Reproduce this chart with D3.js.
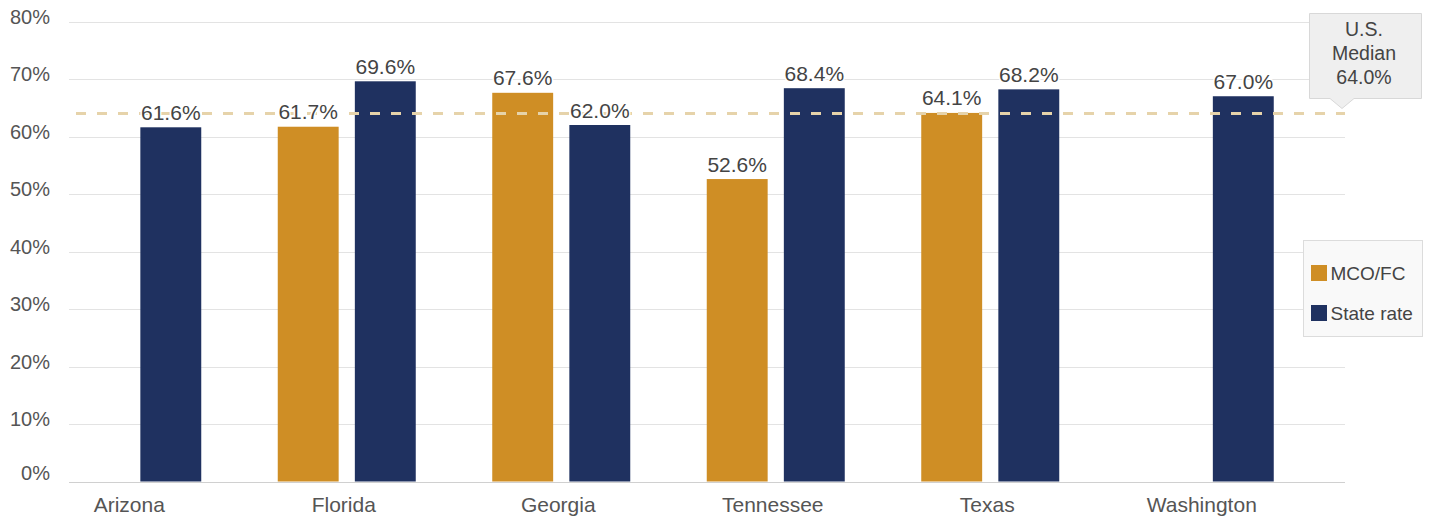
<!DOCTYPE html>
<html>
<head>
<meta charset="utf-8">
<script src="https://cdn.jsdelivr.net/npm/d3@7"></script>
<style>
  body { margin: 0; background: #fff; }
  text { font-family: "Liberation Sans", Arial, sans-serif; }
</style>
</head>
<body>
<div id="chart"></div>
<script>
var states = ["Arizona", "Florida", "Georgia", "Tennessee", "Texas", "Washington"];
var seriesNames = ["MCO/FC", "State rate"];
var mcoValues = [null, 61.7, 67.6, 52.6, 64.1, null];
var stateValues = [61.6, 69.6, 62.0, 68.4, 68.2, 67.0];
var yTicks = [0, 10, 20, 30, 40, 50, 60, 70, 80];
var medianValue = 64.0;
var colors = ["#cf8e25", "#1f3160"];

var width = 1430, height = 520;

var svg = d3.select("#chart").append("svg")
    .attr("width", width)
    .attr("height", height);

var x = d3.scaleBand()
    .domain(states)
    .range([25, 1312]);

var inner = d3.scaleBand()
    .domain(seriesNames)
    .range([x.bandwidth() / 2 - 69, x.bandwidth() / 2 + 69])
    .paddingInner(0.21);

var y = d3.scaleLinear()
    .domain([0, 80])
    .range([481.5, 21.5]);

// grid
svg.append("g")
  .selectAll("line")
  .data(yTicks)
  .enter().append("line")
    .attr("x1", 69)
    .attr("x2", 1345)
    .attr("y1", function(d) { return Math.round(y(d)) + 0.5; })
    .attr("y2", function(d) { return Math.round(y(d)) + 0.5; })
    .style("stroke", function(d) { return d === 0 ? "#d0d0d0" : "#e3e3e3"; })
    .style("stroke-width", 1);

// y labels
svg.append("g")
  .selectAll("text")
  .data(yTicks)
  .enter().append("text")
    .attr("x", 50)
    .attr("y", function(d) { return d === 0 ? y(d) - 1.5 : y(d) + 2; })
    .attr("text-anchor", "end")
    .style("font-size", "20px")
    .style("fill", "#555")
    .text(function(d) { return d + "%"; });

// x labels
svg.append("g")
  .selectAll("text")
  .data(states)
  .enter().append("text")
    .attr("x", function(d) { return x(d) + x.bandwidth() / 2 - 3; })
    .attr("y", 512)
    .attr("text-anchor", "middle")
    .style("font-size", "21px")
    .style("fill", "#555")
    .text(function(d) { return d; });

var rows = [];
states.forEach(function(s, i) {
  rows.push({state: s, series: seriesNames[0], value: mcoValues[i], color: colors[0]});
  rows.push({state: s, series: seriesNames[1], value: stateValues[i], color: colors[1]});
});
rows = rows.filter(function(d) { return d.value != null; });

svg.append("g")
  .selectAll("rect")
  .data(rows)
  .enter().append("rect")
    .attr("x", function(d) { return x(d.state) + inner(d.series); })
    .attr("width", inner.bandwidth())
    .attr("y", function(d) { return y(d.value); })
    .attr("height", function(d) { return y(0) - y(d.value); })
    .style("fill", function(d) { return d.color; });

// median line
svg.append("line")
    .attr("x1", 69)
    .attr("x2", 1345)
    .attr("y1", y(medianValue))
    .attr("y2", y(medianValue))
    .style("stroke", "#e6d3aa")
    .style("stroke-width", 3)
    .style("stroke-dasharray", "10,11")
    .style("stroke-dashoffset", 14);

// value labels
svg.append("g")
  .selectAll("text")
  .data(rows)
  .enter().append("text")
    .attr("x", function(d) { return x(d.state) + inner(d.series) + inner.bandwidth() / 2; })
    .attr("y", function(d) { return y(d.value) - 7.5; })
    .attr("text-anchor", "middle")
    .style("font-size", "21px")
    .style("fill", "#444")
    .style("stroke", "#fff")
    .style("stroke-width", 3)
    .style("paint-order", "stroke")
    .text(function(d) { return d.value.toFixed(1) + "%"; });

// median callout
var my = y(medianValue);
svg.append("path")
    .attr("d", "M1309.5,13.5H1421.5V98.5H1354L1342," + (my - 5) + "L1330,98.5H1309.5Z")
    .style("fill", "#efefef")
    .style("stroke", "#d8d8d8");

var callout = svg.append("text")
    .attr("x", 1364)
    .attr("text-anchor", "middle")
    .style("font-size", "19.5px")
    .style("fill", "#444");
["U.S.", "Median", medianValue.toFixed(1) + "%"].forEach(function(t, i) {
  callout.append("tspan").attr("x", 1364).attr("y", 35.5 + i * 24).text(t);
});

// legend
var legend = svg.append("g");
legend.append("rect")
    .attr("x", 1303.5)
    .attr("y", 240.5)
    .attr("width", 119)
    .attr("height", 96)
    .style("fill", "#f9f9f9")
    .style("stroke", "#dcdcdc");

var li = legend.selectAll("g.item")
    .data(seriesNames)
    .enter().append("g")
    .attr("class", "item")
    .attr("transform", function(d, i) { return "translate(1311," + (265 + i * 40) + ")"; });
li.append("rect")
    .attr("width", 16)
    .attr("height", 16)
    .style("fill", function(d, i) { return colors[i]; });
li.append("text")
    .attr("x", 19.5)
    .attr("y", 14.5)
    .style("font-size", "19px")
    .style("fill", "#444")
    .text(function(d) { return d; });
</script>
</body>
</html>
